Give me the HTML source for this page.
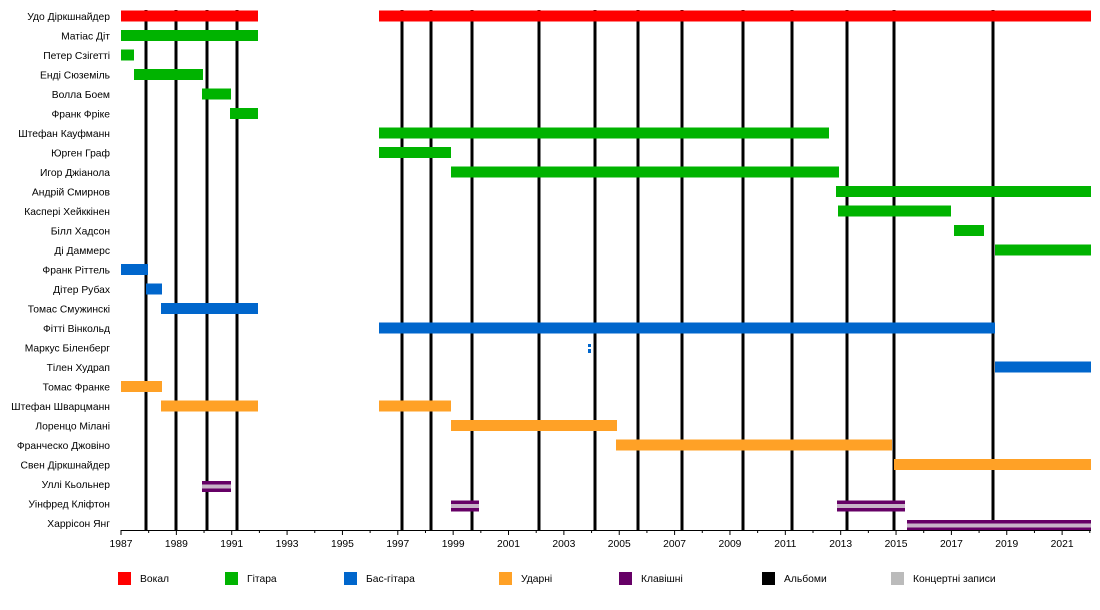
<!DOCTYPE html>
<html><head><meta charset="utf-8"><style>body{margin:0;background:#fff}svg{display:block}text{font-family:"Liberation Sans",sans-serif;font-size:10.3px;fill:#000}</style></head>
<body>
<svg width="1100" height="610" xmlns="http://www.w3.org/2000/svg">
<g stroke="#000" stroke-width="3">
<line x1="146" y1="10" x2="146" y2="530"/><line x1="176" y1="10" x2="176" y2="530"/><line x1="207" y1="10" x2="207" y2="530"/><line x1="237" y1="10" x2="237" y2="530"/><line x1="402" y1="10" x2="402" y2="530"/><line x1="431" y1="10" x2="431" y2="530"/><line x1="472" y1="10" x2="472" y2="530"/><line x1="539" y1="10" x2="539" y2="530"/><line x1="595" y1="10" x2="595" y2="530"/><line x1="638" y1="10" x2="638" y2="530"/><line x1="682" y1="10" x2="682" y2="530"/><line x1="743" y1="10" x2="743" y2="530"/><line x1="792" y1="10" x2="792" y2="530"/><line x1="847" y1="10" x2="847" y2="530"/><line x1="894" y1="10" x2="894" y2="530"/><line x1="993" y1="10" x2="993" y2="530"/>
</g>
<g id="bars">
<rect x="121" y="10.5" width="137" height="11" fill="#ff0000"/><rect x="379" y="10.5" width="712" height="11" fill="#ff0000"/>
<rect x="121" y="30" width="137" height="11" fill="#00b300"/>
<rect x="121" y="49.5" width="13" height="11" fill="#00b300"/>
<rect x="134" y="69" width="69" height="11" fill="#00b300"/>
<rect x="202" y="88.5" width="29" height="11" fill="#00b300"/>
<rect x="230" y="108" width="28" height="11" fill="#00b300"/>
<rect x="379" y="127.5" width="450" height="11" fill="#00b300"/>
<rect x="379" y="147" width="72" height="11" fill="#00b300"/>
<rect x="451" y="166.5" width="388" height="11" fill="#00b300"/>
<rect x="836" y="186" width="255" height="11" fill="#00b300"/>
<rect x="838" y="205.5" width="113" height="11" fill="#00b300"/>
<rect x="954" y="225" width="30" height="11" fill="#00b300"/>
<rect x="995" y="244.5" width="96" height="11" fill="#00b300"/>
<rect x="121" y="264" width="27" height="11" fill="#0066cc"/>
<rect x="146" y="283.5" width="16" height="11" fill="#0066cc"/>
<rect x="161" y="303" width="97" height="11" fill="#0066cc"/>
<rect x="379" y="322.5" width="616" height="11" fill="#0066cc"/>
<rect x="588" y="344" width="3" height="3" fill="#0066cc"/><rect x="588" y="349" width="3" height="4" fill="#0066cc"/>
<rect x="995" y="361.5" width="96" height="11" fill="#0066cc"/>
<rect x="121" y="381" width="41" height="11" fill="#ffa126"/>
<rect x="161" y="400.5" width="97" height="11" fill="#ffa126"/><rect x="379" y="400.5" width="72" height="11" fill="#ffa126"/>
<rect x="451" y="420" width="166" height="11" fill="#ffa126"/>
<rect x="616" y="439.5" width="276" height="11" fill="#ffa126"/>
<rect x="894" y="459" width="197" height="11" fill="#ffa126"/>
<rect x="202" y="481" width="29" height="11" fill="#660066"/><rect x="202" y="484.5" width="29" height="4" fill="#c8b4c8"/>
<rect x="451" y="500.5" width="28" height="11" fill="#660066"/><rect x="451" y="504" width="28" height="4" fill="#c8b4c8"/>
<rect x="837" y="500.5" width="68" height="11" fill="#660066"/><rect x="837" y="504" width="68" height="4" fill="#c8b4c8"/>
<rect x="907" y="520" width="184" height="10" fill="#660066"/><rect x="907" y="523.5" width="184" height="4" fill="#c8b4c8"/>
</g>
<g text-anchor="end">
<text x="110" y="20">Удо Діркшнайдер</text><text x="110" y="39.5">Матіас Діт</text><text x="110" y="59">Петер Сзігетті</text><text x="110" y="78.5">Енді Сюземіль</text><text x="110" y="98">Волла Боем</text><text x="110" y="117.5">Франк Фріке</text><text x="110" y="137">Штефан Кауфманн</text><text x="110" y="156.5">Юрген Граф</text><text x="110" y="176">Игор Джіанола</text><text x="110" y="195.5">Андрій Смирнов</text><text x="110" y="215">Касперi Хейккiнен</text><text x="110" y="234.5">Білл Хадсон</text><text x="110" y="254">Ді Даммерс</text><text x="110" y="273.5">Франк Ріттель</text><text x="110" y="293">Дітер Рубах</text><text x="110" y="312.5">Томас Смужинскі</text><text x="110" y="332">Фітті Вінкольд</text><text x="110" y="351.5">Маркус Біленберг</text><text x="110" y="371">Тілен Худрап</text><text x="110" y="390.5">Томас Франке</text><text x="110" y="410">Штефан Шварцманн</text><text x="110" y="429.5">Лоренцо Мілані</text><text x="110" y="449">Франческо Джовіно</text><text x="110" y="468.5">Свен Діркшнайдер</text><text x="110" y="488">Уллі Кьольнер</text><text x="110" y="507.5">Уінфред Кліфтон</text><text x="110" y="527">Харрісон Янг</text>
</g>
<line x1="121" y1="530.5" x2="1091" y2="530.5" stroke="#000" stroke-width="1"/>
<g stroke="#000" stroke-width="1" id="ticks"></g>
<g text-anchor="middle" id="yl"></g>
<g>
<rect x="118" y="572" width="13" height="13" fill="#ff0000"/><text x="140" y="582">Вокал</text>
<rect x="225" y="572" width="13" height="13" fill="#00b300"/><text x="247" y="582">Гітара</text>
<rect x="344" y="572" width="13" height="13" fill="#0066cc"/><text x="366" y="582">Бас-гітара</text>
<rect x="499" y="572" width="13" height="13" fill="#ffa126"/><text x="521" y="582">Ударні</text>
<rect x="619" y="572" width="13" height="13" fill="#660066"/><text x="641" y="582">Клавішні</text>
<rect x="762" y="572" width="13" height="13" fill="#000"/><text x="784" y="582">Альбоми</text>
<rect x="891" y="572" width="13" height="13" fill="#bbbbbb"/><text x="913" y="582">Концертні записи</text>
</g>
<script>
var t=document.getElementById('ticks'),l=document.getElementById('yl'),ns='http://www.w3.org/2000/svg';
for(var y=1987;y<=2022;y++){var x=121+(y-1987)*27.68;var e=document.createElementNS(ns,'line');e.setAttribute('x1',x);e.setAttribute('x2',x);e.setAttribute('y1',530);e.setAttribute('y2',y%2?535:533);t.appendChild(e);
if(y%2&&y<2022){var s=document.createElementNS(ns,'text');s.setAttribute('x',x);s.setAttribute('y',547);s.textContent=y;l.appendChild(s);}}
</script>
</svg>
</body></html>
